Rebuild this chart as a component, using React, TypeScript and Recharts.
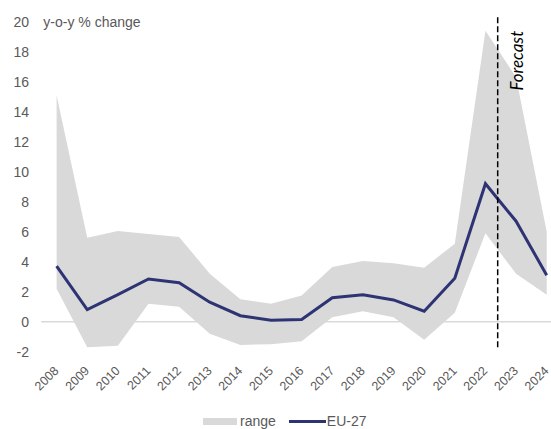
import React from "react";
import {
  ComposedChart,
  Area,
  Line,
  XAxis,
  YAxis,
  ReferenceLine,
  Legend,
} from "recharts";

const years = [2008, 2009, 2010, 2011, 2012, 2013, 2014, 2015, 2016, 2017, 2018, 2019, 2020, 2021, 2022, 2023, 2024];
const eu27 = [3.7, 0.8, 1.8, 2.85, 2.6, 1.3, 0.4, 0.1, 0.15, 1.6, 1.8, 1.45, 0.7, 2.9, 9.2, 6.7, 3.1];
const rangeLow = [2.2, -1.7, -1.6, 1.2, 1.0, -0.8, -1.55, -1.5, -1.3, 0.3, 0.7, 0.3, -1.2, 0.6, 5.9, 3.2, 1.8];
const rangeHigh = [15.1, 5.6, 6.05, 5.85, 5.65, 3.2, 1.5, 1.2, 1.75, 3.65, 4.05, 3.9, 3.6, 5.2, 19.4, 16.3, 6.0];
const yTicks = [-2, 0, 2, 4, 6, 8, 10, 12, 14, 16, 18, 20];
const forecastStart = 2022.4;
const yTitle = "y-o-y % change";
const forecastLabel = "Forecast";

const data = years.map((year, i) => ({
  year,
  eu27: eu27[i],
  range: [rangeLow[i], rangeHigh[i]],
}));

const GREY = "#595959";
const FONT = "'Liberation Sans', Arial, sans-serif";

const YTick = (props: any) => {
  const { y, payload } = props;
  return (
    <text x={29} y={y} textAnchor="end" dominantBaseline="central" fill={GREY} fontSize={14} fontFamily={FONT}>
      {payload.value}
    </text>
  );
};

const XTick = (props: any) => {
  const { x, y, payload } = props;
  const ax = x;
  const ay = y + 17;
  return (
    <text
      x={ax}
      y={ay}
      textAnchor="end"
      dominantBaseline="central"
      transform={`rotate(-45, ${ax}, ${ay})`}
      fill={GREY}
      fontSize={12.5}
      fontFamily={FONT}
    >
      {payload.value}
    </text>
  );
};

const LegendContent = () => (
  <div style={{ display: "flex", alignItems: "center", height: 16, fontFamily: FONT, fontSize: 14, color: GREY, paddingLeft: 203 }}>
    <div style={{ width: 34, height: 7, background: "#d9d9d9" }} />
    <span style={{ marginLeft: 3 }}>range</span>
    <div style={{ width: 37, height: 3, background: "#2E3473", marginLeft: 13 }} />
    <span style={{ marginLeft: 1 }}>EU-27</span>
  </div>
);

export default function App() {
  return (
    <div style={{ position: "absolute", left: 0, top: 0, background: "#fff" }}>
      <ComposedChart width={551} height={429} data={data} margin={{ top: 21.7, right: 0, left: 0, bottom: 0 }}>
        <XAxis
          dataKey="year"
          type="number"
          domain={[2008, 2024]}
          ticks={years}
          interval={0}
          padding={{ left: 15.3, right: 4.3 }}
          axisLine={false}
          tickLine={false}
          tickSize={0}
          tickMargin={0}
          tick={<XTick />}
          height={61.3}
        />
        <YAxis
          domain={[-2, 20]}
          ticks={yTicks}
          interval={0}
          axisLine={false}
          tickLine={false}
          width={41.3}
          tick={<YTick />}
          label={{
            content: (p: any) => (
              <text
                x={p.viewBox.x + p.viewBox.width + 2}
                y={p.viewBox.y}
                dominantBaseline="central"
                fill={GREY}
                fontSize={14}
                fontFamily={FONT}
              >
                {yTitle}
              </text>
            ),
          }}
        />
        <ReferenceLine y={0} stroke="#d9d9d9" strokeWidth={1.5} />
        <Area
          dataKey="range"
          name="range"
          fill="#d9d9d9"
          fillOpacity={1}
          stroke="none"
          isAnimationActive={false}
          activeDot={false}
        />
        <Line
          dataKey="eu27"
          name="EU-27"
          stroke="#2E3473"
          strokeWidth={3}
          dot={false}
          isAnimationActive={false}
        />
        <ReferenceLine
          segment={[
            { x: forecastStart, y: 20.3 },
            { x: forecastStart, y: -1.85 },
          ]}
          ifOverflow="visible"
          stroke="#000"
          strokeWidth={1.5}
          strokeDasharray="6 3"
          label={{
            content: (p: any) => {
              const lx = p.viewBox.x + 19;
              const ly = p.viewBox.y + 43.5;
              return (
                <text
                  x={lx}
                  y={ly}
                  textAnchor="middle"
                  dominantBaseline="central"
                  transform={`rotate(-90, ${lx}, ${ly})`}
                  fontSize={17}
                  fontStyle="italic"
                  fontFamily="Lato, 'Open Sans', sans-serif"
                  fill="#000"
                >
                  {forecastLabel}
                </text>
              );
            },
          }}
        />
        <Legend
          verticalAlign="bottom"
          height={16}
          content={<LegendContent />}
          wrapperStyle={{ left: 0, width: 551, bottom: 0 }}
        />
      </ComposedChart>
    </div>
  );
}
